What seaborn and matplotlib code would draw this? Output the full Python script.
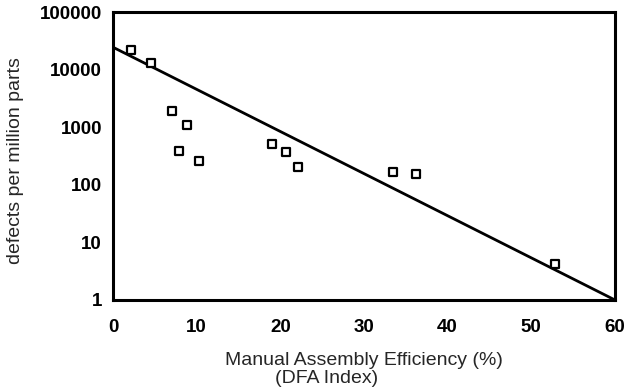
import matplotlib
matplotlib.use("Agg")
import matplotlib.pyplot as plt
import seaborn as sns
import pandas as pd

# scatter data
efficiency = [2.2, 4.5, 7.0, 8.8, 7.9, 10.3, 19.0, 20.7, 22.1, 33.5, 36.2, 52.8]
defects = [22000, 13000, 1900, 1100, 390, 260, 510, 370, 205, 167, 154, 4.2]

# fitted trend line end points
fit_x = [0, 60]
fit_y = [24500, 1]

x_ticks = [0, 10, 20, 30, 40, 50, 60]
y_ticks = [1, 10, 100, 1000, 10000, 100000]
y_labels = ["1", "10", "100", "1000", "10000", "100000"]

pts = pd.DataFrame({"eff": efficiency, "dpm": defects})
fit = pd.DataFrame({"eff": fit_x, "dpm": fit_y})

sns.set_style("white")
plt.rcParams["font.family"] = ["Liberation Sans", "DejaVu Sans"]

fig = plt.figure(figsize=(6.28, 3.90), dpi=100)
ax = fig.add_axes([0.180, 0.231, 0.799, 0.738])

sns.lineplot(data=fit, x="eff", y="dpm", color="black", linewidth=2, ax=ax)
sns.scatterplot(data=pts, x="eff", y="dpm", marker="s", s=40,
                facecolor="white", edgecolor="black", linewidth=1.6,
                zorder=3, ax=ax)

ax.set_yscale("log")
ax.set_xlim(0, 60)
ax.set_ylim(1, 100000)
ax.set_xticks(x_ticks)
ax.set_xticklabels([str(t) for t in x_ticks])
ax.set_yticks(y_ticks)
ax.set_yticklabels(y_labels)
ax.minorticks_off()

for s in ax.spines.values():
    s.set_linewidth(2.2)
    s.set_color("black")

ax.tick_params(axis="both", direction="in", length=6, width=1.5,
               labelsize=13.5, colors="black")
ax.tick_params(axis="x", pad=14)
ax.tick_params(axis="y", pad=8)
for lab in ax.get_xticklabels() + ax.get_yticklabels():
    lab.set_fontweight("bold")

ax.set_xlabel("Manual Assembly Efficiency (%)", fontsize=14, labelpad=11)
ax.text(0.425, -0.245, "(DFA Index)", transform=ax.transAxes, fontsize=14,
        ha="center", va="top")
ax.set_ylabel("defects per million parts", fontsize=14)
ax.yaxis.set_label_coords(-0.178, 0.483)

fig.savefig("out.png", dpi=100)
